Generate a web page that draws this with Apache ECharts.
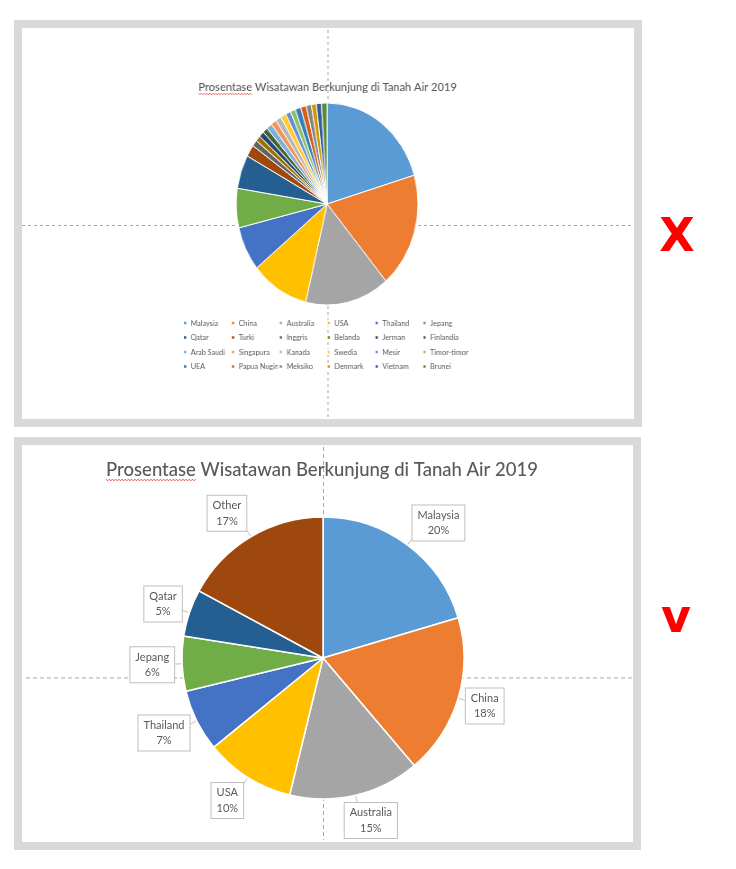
<!DOCTYPE html>
<html>
<head>
<meta charset="utf-8">
<script src="https://cdn.jsdelivr.net/npm/echarts@6/dist/echarts.min.js"></script>
<style>
html,body{margin:0;padding:0;background:#ffffff;}
#main{position:absolute;left:0;top:0;width:736px;height:869px;}
#top{position:absolute;left:22px;top:28px;width:679px;height:390px;transform:scaleX(0.9);transform-origin:0 0;}
</style>
</head>
<body>
<div id="main"></div>
<div id="top"></div>
<script>
// ---------------- data ----------------
const titleText = 'Prosentase Wisatawan Berkunjung di Tanah Air 2019';
const countries = ['Malaysia','China','Australia','USA','Thailand','Jepang',
  'Qatar','Turki','Inggris','Belanda','Jerman','Finlandia',
  'Arab Saudi','Singapura','Kanada','Swedia','Mesir','Timor-timor',
  'UEA','Papua Nugini','Meksiko','Denmark','Vietnam','Brunei'];
const shares = [20.4, 18.4, 15.0, 10.3, 7.1, 6.3,
  5.4, 1.9, 1.0, 0.9, 0.9, 0.9,
  1.0, 1.0, 1.0, 1.0, 0.9, 0.9,
  1.0, 1.0, 0.9, 0.9, 0.9, 1.0];
const keepCount = 7;
const otherLabel = 'Other';
const markWrong = 'X';
const markRight = 'v';

const palette = ['#5B9BD5','#ED7D31','#A5A5A5','#FFC000','#4472C4','#70AD47',
  '#255E91','#9E480E','#636363','#997300','#264478','#43682B',
  '#7CAFDD','#F1975A','#B7B7B7','#FFCD33','#698ED0','#8CC168',
  '#327DC2','#D26012','#848484','#CC9A00','#335AA1','#5A8A39'];

// derived: grouped data for the improved chart
const bottomNames = countries.slice(0, keepCount).concat([otherLabel]);
const otherSum = Math.round(shares.slice(keepCount).reduce((a, b) => a + b, 0) * 10) / 10;
const bottomValues = shares.slice(0, keepCount).concat([otherSum]);

// ---------------- helpers ----------------
const FONT = 'Lato';
const TXT = '#595959';
const measureCtx = document.createElement('canvas').getContext('2d');
function textWidth(str, font) { measureCtx.font = font; return measureCtx.measureText(str).width; }
function squiggle(x0, x1, y) {
  const pts = [];
  let up = true;
  for (let x = x0; x <= x1; x += 1.6) { pts.push([x, y + (up ? -0.9 : 0.9)]); up = !up; }
  return pts;
}
function clamp(v) { return Math.max(-1, Math.min(1, v)); }

// ---------------- main chart (frames, guides, improved pie) ----------------
const PC = [323, 658], PR = 141;
const bottomTotal = bottomValues.reduce((a, b) => a + b, 0);
function midAngle(i) {
  let s = 0;
  for (let k = 0; k < i; k++) s += bottomValues[k];
  return (s + bottomValues[i] / 2) / bottomTotal * Math.PI * 2;
}

const bTitleFont = '500 18.5px ' + FONT;
const bTitleW = textWidth(titleText, bTitleFont);
const bWordW = textWidth(titleText.split(' ')[0], bTitleFont);
const bTitleX = 322, bTitleY = 470;

const main = echarts.init(document.getElementById('main'), null, {renderer: 'canvas'});
main.setOption({
  animation: false,
  color: palette,
  graphic: [
    // panel frames
    {type: 'rect', z: 0, shape: {x: 18, y: 24, width: 620, height: 399}, style: {fill: 'none', stroke: '#d9d9d9', lineWidth: 8}},
    {type: 'rect', z: 0, shape: {x: 18, y: 441, width: 619, height: 405}, style: {fill: 'none', stroke: '#d9d9d9', lineWidth: 8}},
    // dashed guides (top)
    {type: 'line', z: 0, shape: {x1: 328, y1: 30, x2: 328, y2: 418}, style: {stroke: '#a6a6a6', lineWidth: 1, lineDash: [3, 3]}},
    {type: 'line', z: 0, shape: {x1: 22, y1: 225.5, x2: 633, y2: 225.5}, style: {stroke: '#a6a6a6', lineWidth: 1, lineDash: [3, 3]}},
    // dashed guides (bottom)
    {type: 'line', z: 0, shape: {x1: 323.5, y1: 447, x2: 323.5, y2: 840}, style: {stroke: '#a6a6a6', lineWidth: 1, lineDash: [4, 3]}},
    {type: 'line', z: 0, shape: {x1: 26, y1: 678, x2: 632, y2: 678}, style: {stroke: '#a6a6a6', lineWidth: 1, lineDash: [4, 3]}},
    // verdict marks
    {type: 'text', z: 5, x: 677, y: 239, style: {text: markWrong, font: 'bold 46px "DejaVu Sans"', fill: '#ff0000', align: 'center', verticalAlign: 'middle'}},
    {type: 'text', z: 5, x: 676, y: 620, style: {text: markRight, font: 'bold 46px "DejaVu Sans"', fill: '#ff0000', align: 'center', verticalAlign: 'middle'}},
    // bottom title
    {type: 'text', z: 5, x: bTitleX, y: bTitleY, style: {text: titleText, font: bTitleFont, fill: TXT, align: 'center', verticalAlign: 'middle'}},
    {type: 'polyline', z: 5, shape: {points: squiggle(bTitleX - bTitleW / 2, bTitleX - bTitleW / 2 + bWordW, bTitleY + 10)}, style: {stroke: '#e0403c', lineWidth: 0.8, fill: 'none'}}
  ],
  series: [{
    type: 'pie',
    center: PC,
    radius: PR,
    startAngle: 90,
    clockwise: true,
    silent: true,
    emphasis: {disabled: true},
    itemStyle: {borderColor: '#ffffff', borderWidth: 1.5},
    label: {
      show: true,
      position: 'outside',
      formatter: p => p.name + '\n' + Math.round(p.percent) + '%',
      fontFamily: FONT,
      fontSize: 11,
      lineHeight: 15.5,
      color: TXT,
      align: 'center',
      backgroundColor: '#ffffff',
      borderColor: '#bfbfbf',
      borderWidth: 1,
      padding: [2, 5]
    },
    labelLine: {show: true, lineStyle: {color: '#bfbfbf', width: 1}},
    labelLayout: function (p) {
      // callout anchored just outside the slice on its middle ray
      const a = midAngle(p.dataIndex);
      const sx = Math.sin(a), sy = -Math.cos(a);
      const w = p.labelRect.width, h = p.labelRect.height;
      const dist = PR + 7;
      const px = PC[0] + sx * dist, py = PC[1] + sy * dist;
      const x = px + clamp(sx * 2.2) * w / 2;
      const y = py + clamp(sy * 1.1) * h / 2;
      return {
        x: x, y: y, align: 'center', verticalAlign: 'middle',
        labelLinePoints: [[PC[0] + sx * (PR + 1), PC[1] + sy * (PR + 1)], [px, py], [px, py]]
      };
    },
    data: bottomNames.map((n, i) => ({name: n, value: bottomValues[i]}))
  }]
});

// ---------------- top chart (all countries, legend) ----------------
const tTitleFont = '500 12.3px ' + FONT;
const tTitleW = textWidth(titleText, tTitleFont);
const tWordW = textWidth(titleText.split(' ')[0], tTitleFont);
const tCenterX = 679 / 2;

const legendCols = 6;
const legends = [];
for (let c = 0; c < legendCols; c++) {
  legends.push({
    orient: 'vertical',
    left: 178 + 53.2 * c,
    top: 290,
    padding: 0,
    icon: 'rect',
    itemWidth: 4.5,
    itemHeight: 4.5,
    itemGap: 4.5,
    selectedMode: false,
    data: countries.filter((_, i) => i % legendCols === c),
    textStyle: {fontFamily: FONT, fontSize: 8, color: TXT, lineHeight: 10, padding: [0, 0, 0, -1]}
  });
}

const topChart = echarts.init(document.getElementById('top'), null, {renderer: 'canvas'});
topChart.setOption({
  animation: false,
  color: palette,
  graphic: [
    {type: 'text', x: tCenterX, y: 59, style: {text: titleText, font: tTitleFont, fill: TXT, align: 'center', verticalAlign: 'middle'}},
    {type: 'polyline', shape: {points: squiggle(tCenterX - tTitleW / 2, tCenterX - tTitleW / 2 + tWordW, 66)}, style: {stroke: '#e0403c', lineWidth: 0.7, fill: 'none'}}
  ],
  legend: legends,
  series: [{
    type: 'pie',
    center: [339, 176],
    radius: 101,
    startAngle: 90,
    clockwise: true,
    silent: true,
    emphasis: {disabled: true},
    label: {show: false},
    labelLine: {show: false},
    itemStyle: {borderColor: '#ffffff', borderWidth: 1},
    data: countries.map((n, i) => ({name: n, value: shares[i]}))
  }]
});
</script>
</body>
</html>
